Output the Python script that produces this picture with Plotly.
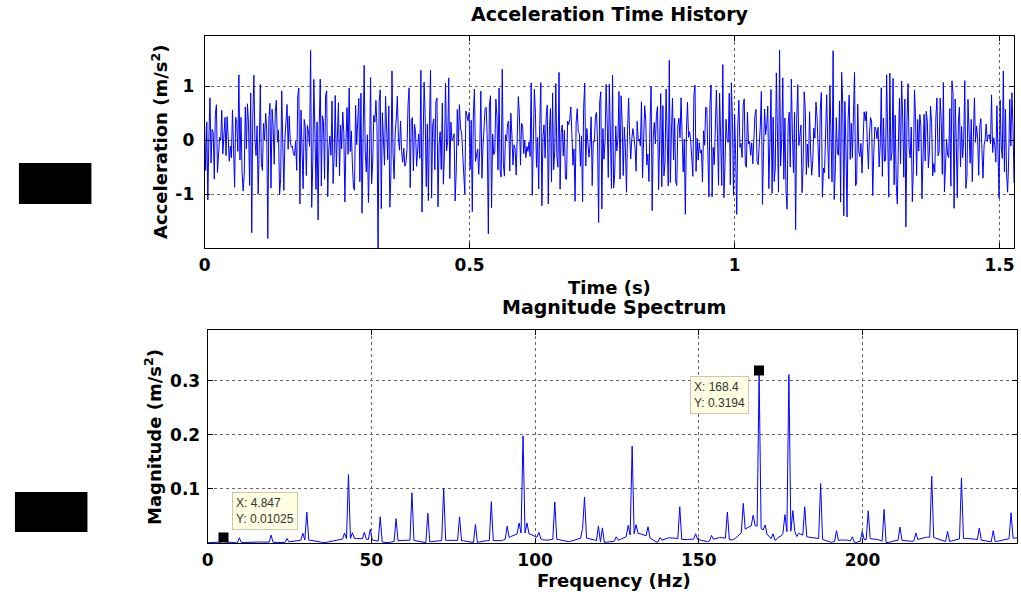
import numpy as np
import plotly.graph_objects as go

# Acquisition settings
FS_HZ = 495.0          # sampling rate
N_SAMPLES = 757        # samples in the record (~1.527 s)
N_FFT = 817            # FFT length (zero padded)

# Spectral lines of the vibration signal: frequency (Hz) and RMS magnitude (m/s^2)
LINE_FREQ_HZ = [
    4.847, 9.6, 19.3, 24.1, 28.9, 30.1, 42.1, 43.3, 44.5, 48.1, 49.9, 52.9,
    57.7, 62.6, 67.3, 72.2, 77.0, 81.7, 86.6, 91.3, 95.0, 96.2, 97.3, 101.0,
    105.8, 114.4, 115.4, 119.4, 120.4, 124.9, 128.5, 129.7, 131.0, 134.5,
    138.0, 144.1, 149.0, 153.7, 158.6, 163.3, 166.6, 168.4, 170.2, 172.9,
    175.4, 176.6, 177.8, 179.0, 180.2, 182.5, 187.4, 192.2, 197.0, 199.9,
    201.7, 206.6, 211.4, 216.3, 221.0, 225.8, 230.5, 235.4, 240.2, 245.2,
]
LINE_MAG = [
    0.01025, 0.009, 0.014, 0.009, 0.012, 0.058, 0.010, 0.125, 0.010, 0.025,
    0.018, 0.047, 0.041, 0.091, 0.052, 0.098, 0.046, 0.032, 0.073, 0.033,
    0.018, 0.201, 0.018, 0.022, 0.075, 0.018, 0.087, 0.027, 0.027, 0.014,
    0.018, 0.181, 0.016, 0.038, 0.012, 0.069, 0.022, 0.017, 0.059, 0.087,
    0.018, 0.3194, 0.012, 0.019, 0.014, 0.032, 0.309, 0.036, 0.014, 0.054,
    0.106, 0.024, 0.009, 0.017, 0.059, 0.059, 0.032, 0.014, 0.124, 0.018,
    0.119, 0.028, 0.022, 0.057,
]

# Data tips shown on the spectrum
TIP_X = [168.4, 4.847]
TIP_Y = [0.3194, 0.01025]

# Axis ticks
TIME_TICKS = [0, 0.5, 1, 1.5]
TIME_TICKTEXT = ["0", "0.5", "1", "1.5"]
ACC_TICKS = [-1, 0, 1]
ACC_TICKTEXT = ["-1", "0", "1"]
FREQ_TICKS = [0, 50, 100, 150, 200]
MAG_TICKS = [0.1, 0.2, 0.3]
MAG_TICKTEXT = ["0.1", "0.2", "0.3"]

# ---- signal synthesis and spectrum ----
df = FS_HZ / N_FFT
freqs = np.rint(np.array(LINE_FREQ_HZ) / df) * df       # lines on the FFT grid
peak_amp = np.sqrt(2) * np.array(LINE_MAG)               # RMS -> peak amplitude
phases = 2 * np.pi * ((np.arange(len(freqs)) * 0.6180339887) % 1.0)

t = np.arange(N_SAMPLES) / FS_HZ
acc = np.sum(peak_amp[:, None] * np.cos(2 * np.pi * freqs[:, None] * t[None, :] + phases[:, None]), axis=0)

# single-sided RMS magnitude spectrum
spec = np.sqrt(2) * np.abs(np.fft.rfft(acc, N_FFT)) / N_SAMPLES
f_axis = np.arange(len(spec)) * df

# ---- figure ----
W, H = 1021, 598
BLUE = "#0000ff"
FONT = "DejaVu Sans, Liberation Sans, Arial, sans-serif"


def px(x):
    return x / W


def py(y):
    return 1 - y / H


fig = go.Figure()
fig.add_trace(go.Scatter(x=t, y=acc, mode="lines", line=dict(color=BLUE, width=1),
                         xaxis="x", yaxis="y", showlegend=False, hoverinfo="skip"))
fig.add_trace(go.Scatter(x=f_axis, y=spec, mode="lines", line=dict(color=BLUE, width=1),
                         xaxis="x2", yaxis="y2", showlegend=False, hoverinfo="skip"))
fig.add_trace(go.Scatter(x=TIP_X, y=TIP_Y, mode="markers",
                         marker=dict(symbol="square", size=10, color="black"),
                         xaxis="x2", yaxis="y2", showlegend=False, cliponaxis=False,
                         hoverinfo="skip"))

tickfont = dict(family=FONT, size=17, color="black", weight="bold")
common = dict(showline=True, linecolor="black", linewidth=1, mirror="allticks",
              ticks="inside", ticklen=5, tickcolor="black", tickfont=tickfont,
              showgrid=True, gridcolor="#666666", griddash="dot", gridwidth=1,
              zeroline=False)

fig.update_layout(
    width=W, height=H,
    margin=dict(l=0, r=0, t=0, b=0),
    paper_bgcolor="white", plot_bgcolor="white",
    xaxis=dict(domain=[px(200), px(1015)], anchor="y", range=[0, t[-1]],
               tickvals=TIME_TICKS, ticktext=TIME_TICKTEXT, ticklabelstandoff=2, **common),
    yaxis=dict(domain=[py(248), py(36)], anchor="x", range=[-1.99, 1.93],
               tickvals=ACC_TICKS, ticktext=ACC_TICKTEXT, ticklabelstandoff=6, **common),
    xaxis2=dict(domain=[px(203), px(1018)], anchor="y2", range=[0, f_axis[-1]],
                tickvals=FREQ_TICKS, ticklabelstandoff=2, **common),
    yaxis2=dict(domain=[py(543), py(330)], anchor="x2", range=[0, 0.3944],
                tickvals=MAG_TICKS, ticktext=MAG_TICKTEXT, ticklabelstandoff=3, **common),
)

texts = [
    ("Acceleration Time History", 607.5, 14, 0, 19),
    ("Time (s)", 607.5, 287, 0, 18),
    ("Magnitude Spectrum", 612, 307, 0, 19),
    ("Frequency (Hz)", 612, 580, 0, 18),
    ("Acceleration (m/s<sup>2</sup>)", 155, 142, -90, 18),
    ("Magnitude (m/s<sup>2</sup>)", 148, 437, -90, 18),
]
for txt, x, y, ang, size in texts:
    fig.add_annotation(text=txt, x=px(x), y=py(y), xref="paper", yref="paper",
                       xanchor="center", yanchor="middle", showarrow=False,
                       textangle=ang,
                       font=dict(family=FONT, size=size, color="black", weight="bold"))

# data tip boxes
tip_offsets = [(-40, -24), (42, 26)]
for (tx, ty), (dx, dy) in zip(zip(TIP_X, TIP_Y), tip_offsets):
    fig.add_annotation(text=f"X: {tx:.4g}<br>Y: {ty:.4g}", x=tx, y=ty, xref="x2", yref="y2",
                       xanchor="center", yanchor="middle", xshift=dx, yshift=dy,
                       showarrow=False, align="left",
                       bgcolor="#ffffe1", bordercolor="#c8c8b0", borderwidth=1, borderpad=3,
                       font=dict(family="Liberation Sans, Arial, sans-serif", size=12,
                                 color="#333333"))

# black blocks at the left margin
for x0, y0, x1, y1 in [(13, 163, 86, 204), (9, 492, 82, 532)]:
    fig.add_shape(type="rect", xref="paper", yref="paper",
                  x0=px(x0), x1=px(x1), y0=py(y1), y1=py(y0),
                  fillcolor="black", line=dict(width=0))

fig.write_html("out.html")
